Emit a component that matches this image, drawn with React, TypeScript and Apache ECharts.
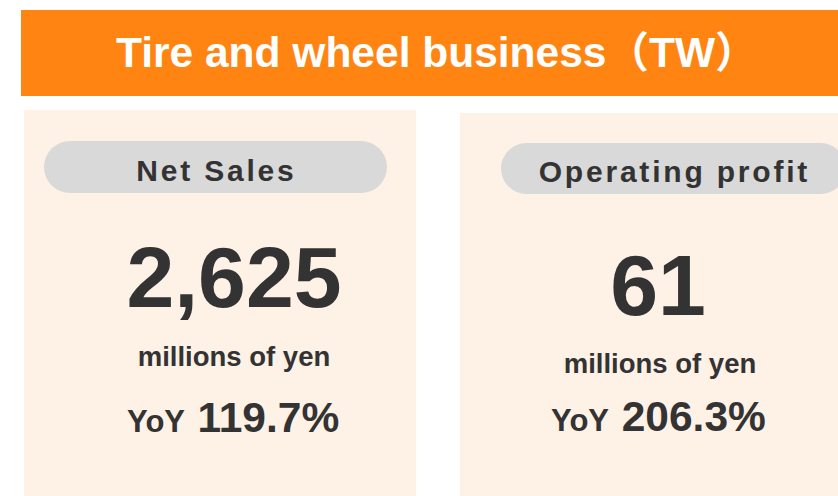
import React, { useEffect, useRef } from "react";
import * as echarts from "echarts";

const titleText = "Tire and wheel business（TW）";
const metricLabels = ["Net Sales", "Operating profit"];
const metricValues = [2625, 61];
const unitLabels = ["millions of yen", "millions of yen"];
const yoyPrefix = "YoY";
const yoyValues = [119.7, 206.3];

const FONT = '"Liberation Sans", Arial, "Noto Sans CJK JP", sans-serif';
const DARK = "#333333";

// layout per panel (positions only)
const panels = [
  {
    rect: { x: 24, y: 110, width: 392, height: 400 },
    pill: { x: 44, y: 141, width: 343, height: 52 },
    labelX: 215, labelY: 170.6,
    valueX: 234, valueY: 277.2,
    unitX: 234, unitY: 356,
    yoyX: 127, yoyY: 421.3, yoyNumX: 197.4, yoyNumY: 417.3,
  },
  {
    rect: { x: 460, y: 113, width: 400, height: 400 },
    pill: { x: 501, y: 143, width: 345, height: 51 },
    labelX: 673, labelY: 171.6,
    valueX: 658, valueY: 285.2,
    unitX: 660, unitY: 363,
    yoyX: 551, yoyY: 420.3, yoyNumX: 621.7, yoyNumY: 416.3,
  },
];

export default function App() {
  const ref = useRef<HTMLDivElement>(null);
  useEffect(() => {
    if (!ref.current) return;
    const chart = echarts.init(ref.current, null, { renderer: "svg" });
    const elements: any[] = [
      {
        type: "rect",
        shape: { x: 21, y: 10, width: 830, height: 86 },
        style: { fill: "#FF8412" },
      },
      {
        type: "text",
        x: 116,
        y: 52.3,
        style: {
          text: titleText,
          fill: "#FFFFFF",
          font: `bold 42.5px ${FONT}`,
          textAlign: "left",
          textVerticalAlign: "middle",
        },
      },
    ];
    panels.forEach((p, i) => {
      elements.push(
        { type: "rect", shape: { ...p.rect }, style: { fill: "#FEF1E6" } },
        {
          type: "rect",
          shape: { ...p.pill, r: p.pill.height / 2 },
          style: { fill: "#D9D9D9" },
        },
        {
          type: "text",
          x: p.labelX + 1.4,
          y: p.labelY,
          style: {
            text: metricLabels[i],
            fill: DARK,
            font: `bold 30px ${FONT}`,
            textAlign: "center",
            textVerticalAlign: "middle",
          },
        },
        {
          type: "text",
          x: p.valueX,
          y: p.valueY,
          style: {
            text: metricValues[i].toLocaleString("en-US"),
            fill: DARK,
            font: `bold 86px ${FONT}`,
            textAlign: "center",
            textVerticalAlign: "middle",
          },
        },
        {
          type: "text",
          x: p.unitX,
          y: p.unitY,
          style: {
            text: unitLabels[i],
            fill: DARK,
            font: `bold 27.5px ${FONT}`,
            textAlign: "center",
            textVerticalAlign: "middle",
          },
        },
        {
          type: "text",
          x: p.yoyX,
          y: p.yoyY,
          style: {
            text: yoyPrefix,
            fill: DARK,
            font: `bold 31px ${FONT}`,
            textAlign: "left",
            textVerticalAlign: "middle",
          },
        },
        {
          type: "text",
          x: p.yoyNumX,
          y: p.yoyNumY,
          style: {
            text: yoyValues[i].toFixed(1) + "%",
            fill: DARK,
            font: `bold 42.5px ${FONT}`,
            textAlign: "left",
            textVerticalAlign: "middle",
          },
        }
      );
    });
    chart.setOption({
      animation: false,
      backgroundColor: "#FFFFFF",
      graphic: { elements },
    });
    // letter spacing for pill labels
    const svg = ref.current.querySelector("svg");
    if (svg) {
      svg.querySelectorAll("text").forEach((t) => {
        if (metricLabels.includes(t.textContent || "")) {
          (t as SVGTextElement).style.letterSpacing = "2.8px";
        }
      });
    }
    return () => chart.dispose();
  }, []);
  return (
    <div
      ref={ref}
      style={{ position: "absolute", left: 0, top: 0, width: 838, height: 496 }}
    />
  );
}
